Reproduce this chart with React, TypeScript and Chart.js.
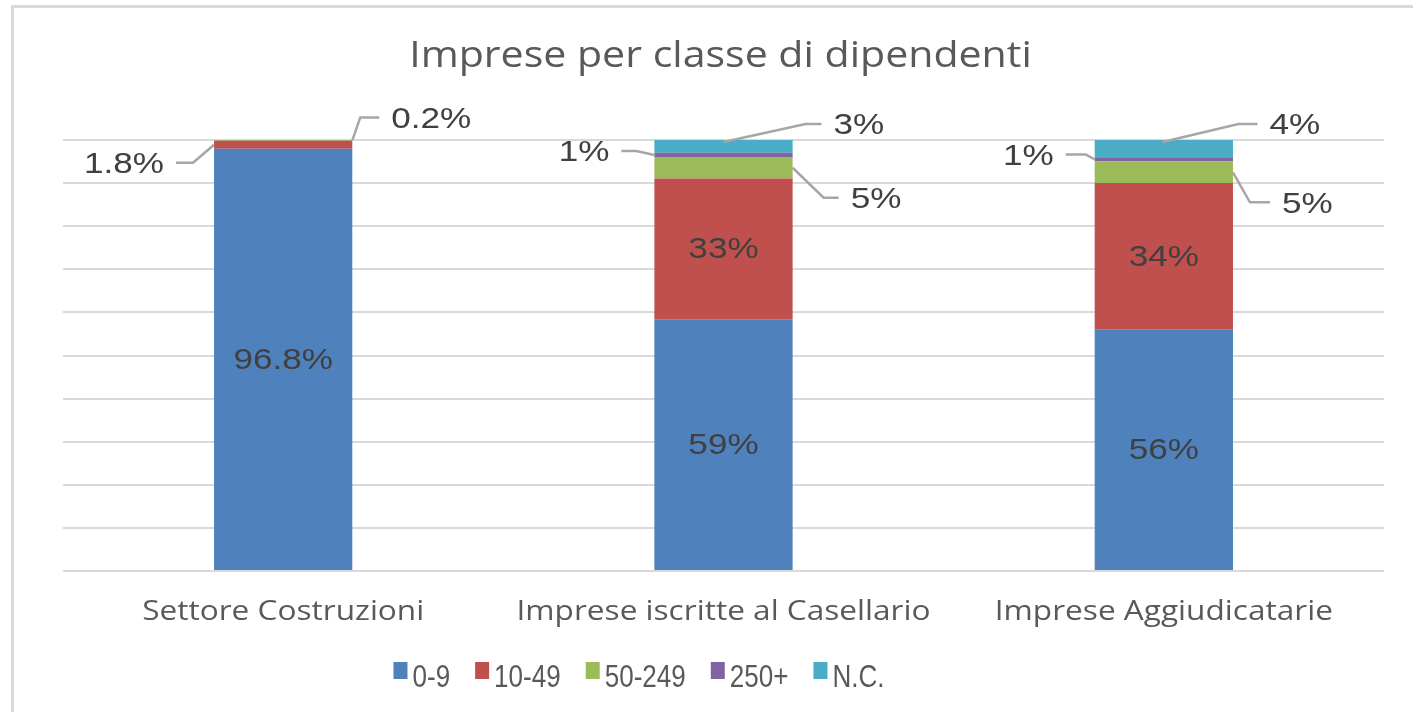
import React, { useEffect, useRef } from "react";
import { Chart, registerables } from "chart.js";

Chart.register(...registerables);

// ---------- DATA ----------
const TITLE = "Imprese per classe di dipendenti";
const CATEGORIES = ["Settore Costruzioni", "Imprese iscritte al Casellario", "Imprese Aggiudicatarie"];
const SERIES_NAMES = ["0-9", "10-49", "50-249", "250+", "N.C."];
const SERIES_COLORS = ["#4f81bd", "#c0504d", "#9bbb59", "#8064a2", "#4bacc6"];
const VALUES_0_9 = [96.8, 59, 56];
const VALUES_10_49 = [1.8, 33, 34];
const VALUES_50_249 = [0.2, 5, 5];
const VALUES_250 = [0, 1, 1];
const VALUES_NC = [0, 3, 4];
const ALL_VALUES = [VALUES_0_9, VALUES_10_49, VALUES_50_249, VALUES_250, VALUES_NC];

// ---------- STYLE / LABEL PLACEMENT ----------
// leader lines for small segments: ax = fraction of bar width, ay = fraction of segment height
const LEADERS = [
  { cat: 0, series: 1, ax: 0, ay: 0.5, dx: -21, dy: 18, tail: -17 },
  { cat: 0, series: 2, ax: 1, ay: 0.5, dx: 8, dy: -23, tail: 19 },
  { cat: 1, series: 2, ax: 1, ay: 0.5, dx: 31, dy: 30, tail: 15 },
  { cat: 1, series: 3, ax: 0, ay: 0.5, dx: -18, dy: -4, tail: -15 },
  { cat: 1, series: 4, ax: 0.5, ay: 0.15, dx: 82, dy: -18, tail: 16 },
  { cat: 2, series: 2, ax: 1, ay: 0.5, dx: 17, dy: 30, tail: 20 },
  { cat: 2, series: 3, ax: 0, ay: 0.5, dx: -9, dy: -5, tail: -20 },
  { cat: 2, series: 4, ax: 0.49, ay: 0.12, dx: 76, dy: -18, tail: 19 },
];

const GRID_COLOR = "#d9d9d9";
const LEADER_COLOR = "#a6a6a6";
const LABEL_FONT = '30px "Liberation Sans", Arial, sans-serif';
const LABEL_SCALE = 1.17;
const TITLE_FONT = '37px "Open Sans", sans-serif';
const TITLE_SCALE = 1.11;
const CAT_FONT = '27px "Open Sans", sans-serif';
const CAT_SCALE = 1.17;
const LEGEND_FONT = '31px "Liberation Sans", Arial, sans-serif';
const LEGEND_SCALE = 0.84;

function drawText(
  ctx: CanvasRenderingContext2D,
  text: string,
  x: number,
  y: number,
  align: CanvasTextAlign,
  baseline: CanvasTextBaseline,
  font: string,
  color: string,
  scale: number
) {
  ctx.save();
  ctx.font = font;
  ctx.fillStyle = color;
  ctx.textAlign = align;
  ctx.textBaseline = baseline;
  ctx.translate(x, y);
  ctx.scale(scale, 1);
  ctx.fillText(text, 0, 0);
  const w = ctx.measureText(text).width * scale;
  ctx.restore();
  return w;
}

function measure(ctx: CanvasRenderingContext2D, text: string, font: string, scale: number) {
  ctx.save();
  ctx.font = font;
  const w = ctx.measureText(text).width * scale;
  ctx.restore();
  return w;
}

const customPlugin = {
  id: "customDraw",
  afterDatasetsDraw(chart: any) {
    const ctx: CanvasRenderingContext2D = chart.ctx;
    chart.data.datasets.forEach((_ds: any, di: number) => {
      const meta = chart.getDatasetMeta(di);
      meta.data.forEach((bar: any, ci: number) => {
        const raw = ALL_VALUES[di][ci];
        if (!raw) return;
        const { x, y, base, width } = bar.getProps(["x", "y", "base", "width"], true);
        const top = Math.min(y, base);
        const bottom = Math.max(y, base);
        const text = `${raw}%`;
        const leader = LEADERS.find((l) => l.cat === ci && l.series === di);
        if (!leader) {
          drawText(ctx, text, x, (top + bottom) / 2 + 1, "center", "middle", LABEL_FONT, "#404040", LABEL_SCALE);
          return;
        }
        const axp = x - width / 2 + leader.ax * width;
        const ayp = top + leader.ay * (bottom - top);
        const ex = axp + leader.dx;
        const ey = ayp + leader.dy;
        const tx = ex + leader.tail;
        ctx.save();
        ctx.strokeStyle = LEADER_COLOR;
        ctx.lineWidth = 2.5;
        ctx.beginPath();
        ctx.moveTo(axp, ayp);
        ctx.lineTo(ex, ey);
        ctx.lineTo(tx, ey);
        ctx.stroke();
        ctx.restore();
        const gap = 12;
        if (leader.tail > 0) {
          drawText(ctx, text, tx + gap, ey + 2, "left", "middle", LABEL_FONT, "#404040", LABEL_SCALE);
        } else {
          drawText(ctx, text, tx - gap, ey + 2, "right", "middle", LABEL_FONT, "#404040", LABEL_SCALE);
        }
      });
    });
  },
  afterDraw(chart: any) {
    const ctx: CanvasRenderingContext2D = chart.ctx;
    const area = chart.chartArea;
    // title
    drawText(ctx, TITLE, (area.left + area.right) / 2 - 3, 67, "center", "alphabetic", TITLE_FONT, "#595959", TITLE_SCALE);
    // category labels
    const xScale = chart.scales.x;
    CATEGORIES.forEach((c, i) => {
      const px = xScale.getPixelForValue(i);
      drawText(ctx, c, px, area.bottom + 49, "center", "alphabetic", CAT_FONT, "#595959", CAT_SCALE);
    });
    // legend
    const boxW = 14;
    const boxH = 17;
    const boxGap = 5;
    const itemGap = 25;
    let total = 0;
    SERIES_NAMES.forEach((n, i) => {
      total += boxW + boxGap + measure(ctx, n, LEGEND_FONT, LEGEND_SCALE);
      if (i < SERIES_NAMES.length - 1) total += itemGap;
    });
    const legendCenter = 639;
    let lx = legendCenter - total / 2;
    const ly = 678;
    SERIES_NAMES.forEach((n, i) => {
      ctx.save();
      ctx.fillStyle = SERIES_COLORS[i];
      ctx.fillRect(lx, ly - 16, boxW, boxH);
      ctx.restore();
      lx += boxW + boxGap;
      const w = drawText(ctx, n, lx, ly, "left", "middle", LEGEND_FONT, "#595959", LEGEND_SCALE);
      lx += w + itemGap;
    });
  },
};

export default function App() {
  const canvasRef = useRef<HTMLCanvasElement | null>(null);

  useEffect(() => {
    if (!canvasRef.current) return;
    const sums = CATEGORIES.map((_, ci) => ALL_VALUES.reduce((s, arr) => s + arr[ci], 0));
    const datasets = SERIES_NAMES.map((name, si) => ({
      label: name,
      data: ALL_VALUES[si].map((v, ci) => (v / sums[ci]) * 100),
      backgroundColor: SERIES_COLORS[si],
      borderWidth: 0,
      barPercentage: 0.314,
      categoryPercentage: 1,
    }));
    const chart = new Chart(canvasRef.current, {
      type: "bar",
      data: { labels: CATEGORIES, datasets },
      options: {
        animation: false,
        responsive: false,
        devicePixelRatio: 1,
        layout: { padding: { left: 63, right: 29, top: 140, bottom: 141 } },
        plugins: {
          legend: { display: false },
          title: { display: false },
          tooltip: { enabled: false },
        },
        scales: {
          x: {
            stacked: true,
            grid: { display: false, drawTicks: false },
            ticks: { display: false },
            border: { display: false },
          },
          y: {
            stacked: true,
            min: 0,
            max: 100,
            ticks: { display: false, stepSize: 10 },
            grid: { color: GRID_COLOR, lineWidth: 2, drawTicks: false },
            border: { display: false },
          },
        },
      },
      plugins: [customPlugin],
    });
    return () => chart.destroy();
  }, []);

  return (
    <div style={{ position: "fixed", left: 0, top: 0, width: 1413, height: 712, background: "#ffffff", overflow: "hidden" }}>
      <div
        style={{
          position: "absolute",
          left: 11,
          top: 5,
          width: 1500,
          height: 800,
          borderLeft: "3px solid #d9d9d9",
          borderTop: "3px solid #d9d9d9",
        }}
      />
      <canvas ref={canvasRef} width={1413} height={712} style={{ position: "absolute", left: 0, top: 0 }} />
    </div>
  );
}
